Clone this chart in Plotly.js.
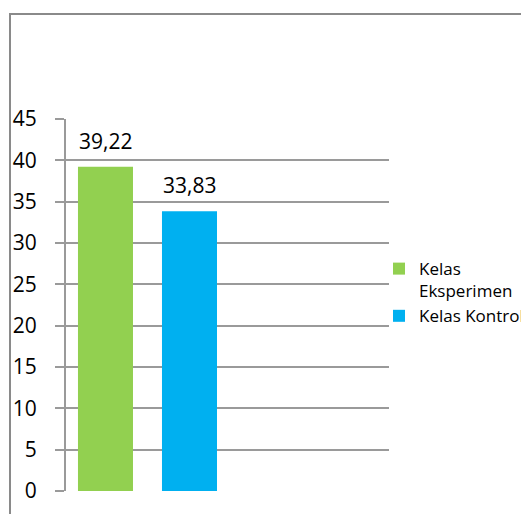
<!DOCTYPE html>
<html>
<head>
<meta charset="utf-8">
<script src="https://cdn.plot.ly/plotly-3.0.1.min.js"></script>
<style>
  html, body { margin: 0; padding: 0; background: #fff; overflow: hidden; }
  #wrap { position: relative; width: 521px; height: 514px; overflow: hidden; }
  #frame { position: absolute; left: 9px; top: 13px; width: 600px; height: 600px;
           border-left: 2px solid #8a8a8a; border-top: 2px solid #8a8a8a; pointer-events: none; z-index: 5; }
  #chart { position: absolute; left: 0; top: 0; width: 521px; height: 514px; }
</style>
</head>
<body>
<div id="wrap">
  <div id="chart"></div>
  <div id="frame"></div>
</div>
<script>
const seriesNames = ['Kelas<br>Eksperimen', 'Kelas Kontrol'];
const categories = ['Kelas Eksperimen', 'Kelas Kontrol'];
const values = [39.22, 33.83];
const valueLabels = ['39,22', '33,83'];
const colors = ['#92d050', '#00b0f0'];
const yTicks = [0, 5, 10, 15, 20, 25, 30, 35, 40, 45];

const traces = categories.map((c, i) => ({
  type: 'bar',
  name: seriesNames[i],
  x: [c],
  y: [values[i]],
  marker: { color: colors[i] },
  hoverinfo: 'skip'
}));

const annotations = categories.map((c, i) => ({
  x: c, y: values[i], xref: 'x', yref: 'y',
  text: valueLabels[i], showarrow: false,
  yanchor: 'middle', yshift: 26,
  font: { family: 'Open Sans, sans-serif', size: 21, color: '#000' }
}));

const layout = {
  width: 521, height: 514,
  margin: { l: 66, r: 132, t: 119, b: 23, autoexpand: false },
  paper_bgcolor: '#fff', plot_bgcolor: '#fff',
  barmode: 'overlay',
  bargap: 0.345,
  showlegend: true,
  legend: {
    x: 0.969, xanchor: 'left', y: 0.645, yanchor: 'top',
    valign: 'top',
    font: { family: 'Open Sans, sans-serif', size: 17, color: '#000' },
    bgcolor: 'rgba(0,0,0,0)',
    tracegroupgap: 0
  },
  xaxis: {
    type: 'category',
    range: [-0.47, 3.375],
    showticklabels: false, ticks: '', showgrid: false, zeroline: false, showline: false,
    fixedrange: true
  },
  yaxis: {
    range: [0, 45],
    tickvals: yTicks,
    ticktext: yTicks.map(String),
    ticks: 'outside', ticklen: 9, tickcolor: '#9a9a9a', tickwidth: 2,
    ticklabelstandoff: 14,
    showgrid: true, gridcolor: '#9a9a9a', gridwidth: 2,
    zeroline: false,
    showline: true, linecolor: '#9a9a9a', linewidth: 2,
    tickfont: { family: 'Open Sans, sans-serif', size: 21, color: '#000' },
    fixedrange: true
  },
  annotations: annotations
};

Plotly.newPlot('chart', traces, layout, { displayModeBar: false, staticPlot: true });
</script>
</body>
</html>
